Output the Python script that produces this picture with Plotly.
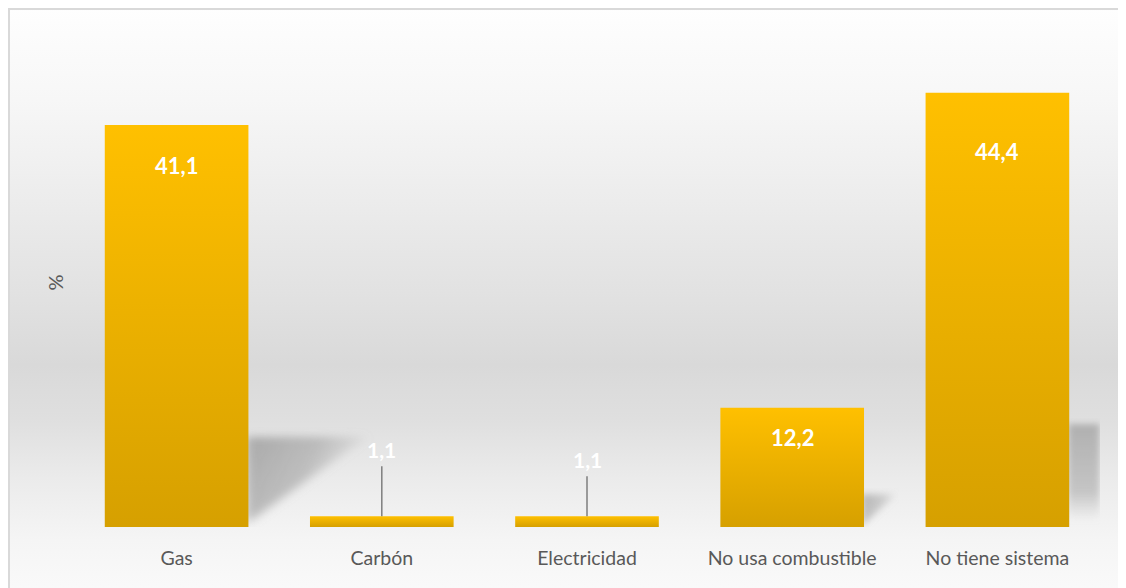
import base64
import plotly.graph_objects as go

# data
categories = ["Gas", "Carbón", "Electricidad", "No usa combustible", "No tiene sistema"]
values = [41.1, 1.1, 1.1, 12.2, 44.4]
value_labels = ["41,1", "1,1", "1,1", "12,2", "44,4"]

W, H = 1126, 588
# the page body adds 8px, so the margins are trimmed by that much
ML, MR, MT, MB = 66, 34, 30, 69
PW, PH = W - ML - MR, H - MT - MB
BAR_W = 0.70
Y_MAX = 50

# pixel distance from bar top to the centre of its label
label_dy = [40, 67, 57, 30, 59]


def svg_uri(svg):
    return "data:image/svg+xml;base64," + base64.b64encode(svg.encode("utf-8")).decode("ascii")


# grey vertical gradient behind the chart + thin frame
bg_svg = f"""<svg xmlns='http://www.w3.org/2000/svg' width='{W}' height='{H}' viewBox='0 0 {W} {H}' preserveAspectRatio='none'>
<defs><linearGradient id='g' x1='0' y1='0' x2='0' y2='1'>
<stop offset='0' stop-color='#fefefe'/>
<stop offset='0.156' stop-color='#f7f7f7'/>
<stop offset='0.327' stop-color='#ececec'/>
<stop offset='0.497' stop-color='#e1e1e1'/>
<stop offset='0.607' stop-color='#d9d9d9'/>
<stop offset='0.70' stop-color='#dfdfdf'/>
<stop offset='0.80' stop-color='#ebebeb'/>
<stop offset='0.905' stop-color='#f5f5f5'/>
<stop offset='1' stop-color='#fafafa'/>
</linearGradient></defs>
<rect x='0' y='0' width='{W}' height='{H}' fill='url(#g)'/>
<rect x='1' y='1' width='{W + 20}' height='{H + 20}' fill='none' stroke='#d9d9d9' stroke-width='2'/>
</svg>"""

tri_svg = """<svg xmlns='http://www.w3.org/2000/svg' width='100' height='100' viewBox='0 0 100 100' preserveAspectRatio='none'>
<defs><filter id='b' x='-30%' y='-30%' width='160%' height='160%'><feGaussianBlur stdDeviation='{sd}'/></filter>
<linearGradient id='s' x1='0' y1='0' x2='1' y2='0.35'>
<stop offset='0' stop-color='#8a8a8a' stop-opacity='{op}'/>
<stop offset='0.55' stop-color='#929292' stop-opacity='{op2}'/>
<stop offset='1' stop-color='#a0a0a0' stop-opacity='0'/>
</linearGradient></defs>
<polygon points='0,16 95,16 0,97' fill='url(#s)' filter='url(#b)'/>
</svg>"""

rect_svg = """<svg xmlns='http://www.w3.org/2000/svg' width='100' height='100' viewBox='0 0 100 100' preserveAspectRatio='none'>
<defs><filter id='b' x='-30%' y='-30%' width='160%' height='160%'><feGaussianBlur stdDeviation='8 3'/></filter>
<linearGradient id='s' x1='0' y1='0' x2='0' y2='1'>
<stop offset='0' stop-color='#9c9c9c' stop-opacity='0.7'/>
<stop offset='0.7' stop-color='#a4a4a4' stop-opacity='0.55'/>
<stop offset='1' stop-color='#b0b0b0' stop-opacity='0'/>
</linearGradient></defs>
<rect x='8' y='6' width='80' height='90' fill='url(#s)' filter='url(#b)'/>
</svg>"""

fig = go.Figure()

for i, v in enumerate(values):
    x0, x1 = i - BAR_W / 2, i + BAR_W / 2
    fig.add_trace(go.Scatter(
        x=[x0, x1, x1, x0, x0],
        y=[0, 0, v, v, 0],
        mode="lines",
        fill="toself",
        line=dict(width=0, color="#E8AF00"),
        fillgradient=dict(type="vertical",
                          colorscale=[[0, "#D6A000"], [1, "#FFC000"]]),
        hoverinfo="skip",
        showlegend=False,
    ))

    if v > 5:
        fig.add_annotation(x=i, y=v, yanchor="middle", yshift=-label_dy[i],
                           text=f"<b>{value_labels[i]}</b>", showarrow=False,
                           font=dict(family="Lato", size=22, color="white"))
    else:
        fig.add_annotation(x=i, y=v, ax=0, ay=-label_dy[i],
                           text=f"<b>{value_labels[i]}</b>", showarrow=True,
                           arrowhead=0, arrowwidth=1.5, arrowcolor="#7f7f7f",
                           borderpad=4,
                           font=dict(family="Lato", size=21, color="white"))

images = [dict(source=svg_uri(bg_svg), xref="paper", yref="paper",
               x=-ML / PW, y=1 + MT / PH, sizex=W / PW, sizey=H / PH,
               xanchor="left", yanchor="top", sizing="stretch", layer="below")]

# soft shadows cast to the right of the taller bars
images.append(dict(source=svg_uri(tri_svg.format(sd=4, op=0.65, op2=0.5)), xref="x", yref="y",
                   x=0 + BAR_W / 2 - 0.01, y=11.0, sizex=0.62, sizey=11.0,
                   xanchor="left", yanchor="top", sizing="stretch", layer="below"))
images.append(dict(source=svg_uri(tri_svg.format(sd=9, op=0.6, op2=0.4)), xref="x", yref="y",
                   x=3 + BAR_W / 2 - 0.01, y=4.0, sizex=0.18, sizey=4.0,
                   xanchor="left", yanchor="top", sizing="stretch", layer="below"))
images.append(dict(source=svg_uri(rect_svg), xref="x", yref="y",
                   x=4 + BAR_W / 2 - 0.02, y=11.2, sizex=0.19, sizey=11.0,
                   xanchor="left", yanchor="top", sizing="stretch", layer="below"))

fig.update_layout(
    width=W, height=H,
    margin=dict(l=ML, r=MR, t=MT, b=MB),
    paper_bgcolor="white",
    plot_bgcolor="rgba(0,0,0,0)",
    images=images,
    showlegend=False,
    font=dict(family="Lato", color="#595959"),
)

fig.update_xaxes(
    range=[-0.5, len(categories) - 0.5],
    tickvals=list(range(len(categories))),
    ticktext=categories,
    tickfont=dict(family="Lato", size=19.5, color="#595959"),
    ticklabelstandoff=17,
    showgrid=False, zeroline=False, showline=False, ticks="",
    fixedrange=True,
)
fig.update_yaxes(
    range=[0, Y_MAX],
    showgrid=False, zeroline=False, showline=False, showticklabels=False,
    ticks="",
    title=dict(text="%", standoff=4, font=dict(family="Lato", size=20, color="#595959")),
    fixedrange=True,
)

fig.write_html("out.html")
